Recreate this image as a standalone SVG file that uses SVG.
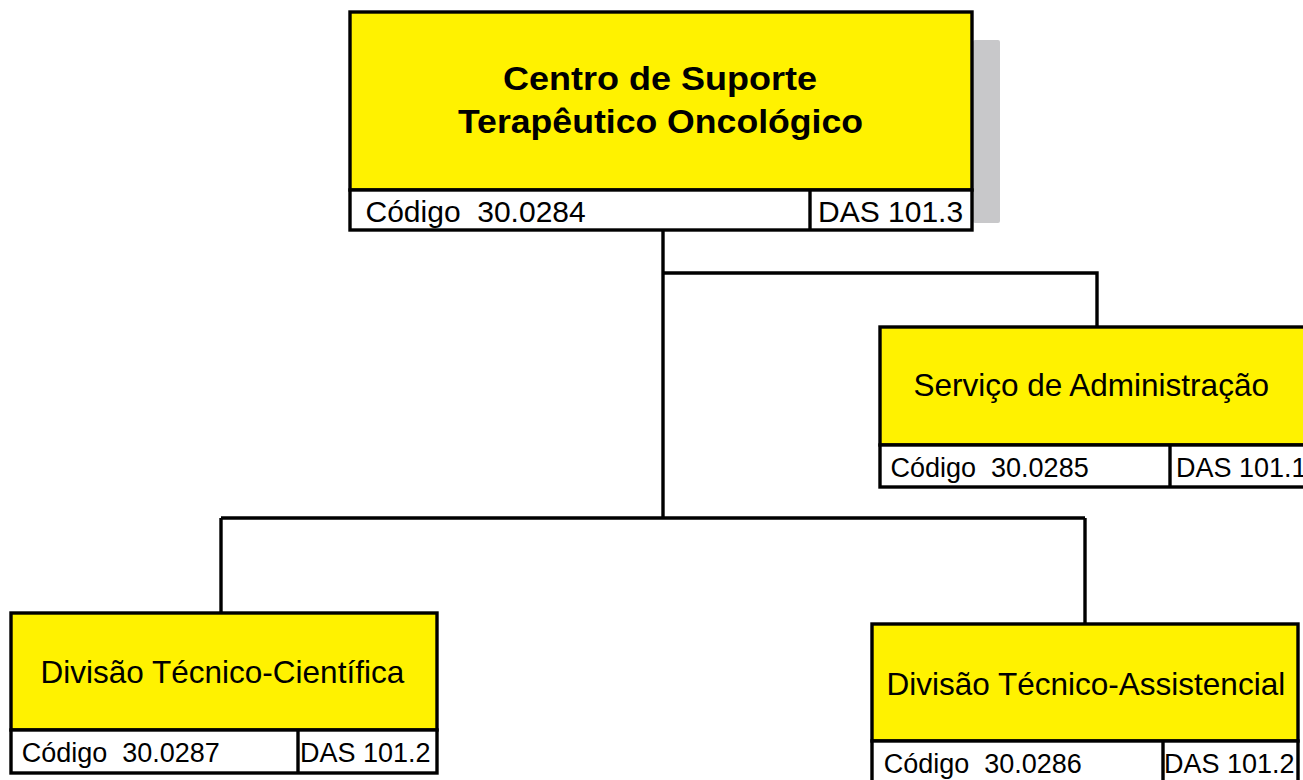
<svg xmlns="http://www.w3.org/2000/svg" width="1303" height="780" viewBox="0 0 1303 780">
<style>
.box{fill:#FFF200;stroke:#000;stroke-width:3.4}
.code{fill:#fff;stroke:#000;stroke-width:3.4}
.ln{stroke:#000;stroke-width:3.4;fill:none}
text{font-family:"Liberation Sans",Arial,Helvetica,sans-serif;fill:#000;white-space:pre}
.title{font-weight:bold;font-size:33px}
.name{font-size:31.5px}
.c30{font-size:30px}
.c27{font-size:27px}
</style>
<rect width="1303" height="780" fill="#fff"/>
<g id="connectors" class="ln">
<path d="M663 230 V518"/>
<path d="M663 273 H1097 V327"/>
<path d="M221 518 H1085"/>
<path d="M221 518 V613"/>
<path d="M1085 518 V624"/>
</g>
<g id="n-centro">
<rect x="973" y="40" width="27" height="183" rx="2" fill="#C8C8CA"/>
<rect class="box" x="350" y="12" width="622" height="178"/>
<rect class="code" x="350" y="190" width="622" height="40"/>
<line class="ln" x1="810" y1="190" x2="810" y2="230"/>
<text class="title" x="660" y="90" text-anchor="middle" textLength="314" lengthAdjust="spacingAndGlyphs">Centro de Suporte</text>
<text class="title" x="660.5" y="133" text-anchor="middle" textLength="405" lengthAdjust="spacingAndGlyphs">Terapêutico Oncológico</text>
<text class="c30" x="365.5" y="222">Código  30.0284</text>
<text class="c30" x="818" y="222">DAS 101.3</text>
</g>
<g id="n-servico">
<rect class="box" x="880" y="327" width="430" height="118"/>
<rect class="code" x="880" y="445" width="430" height="42"/>
<line class="ln" x1="1170" y1="445" x2="1170" y2="487"/>
<text class="name" x="913.5" y="396">Serviço de Administração</text>
<text class="c27" x="890.5" y="477">Código  30.0285</text>
<text class="c27" x="1176" y="477">DAS 101.1</text>
</g>
<g id="n-cientifica">
<rect class="box" x="11" y="613" width="426" height="117"/>
<rect class="code" x="11" y="730" width="426" height="43"/>
<line class="ln" x1="298" y1="730" x2="298" y2="773"/>
<text class="name" x="40.6" y="683">Divisão Técnico-Científica</text>
<text class="c27" x="21.7" y="762">Código  30.0287</text>
<text class="c27" x="300" y="762">DAS 101.2</text>
</g>
<g id="n-assistencial">
<rect class="box" x="872" y="624" width="426" height="117"/>
<rect class="code" x="872" y="741" width="426" height="60"/>
<line class="ln" x1="1163" y1="741" x2="1163" y2="801"/>
<text class="name" x="886.6" y="695">Divisão Técnico-Assistencial</text>
<text class="c27" x="883.7" y="773">Código  30.0286</text>
<text class="c27" x="1164" y="773">DAS 101.2</text>
</g>
</svg>
